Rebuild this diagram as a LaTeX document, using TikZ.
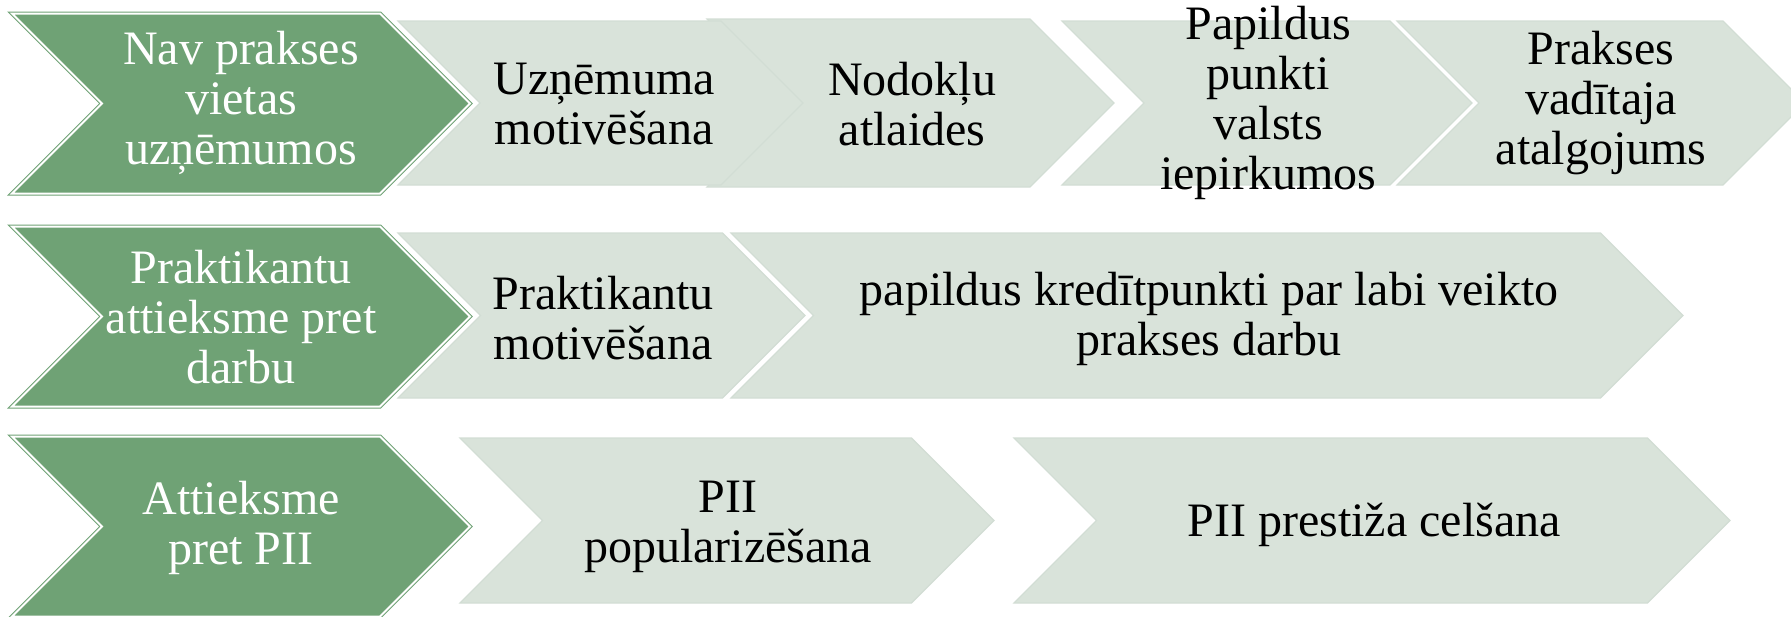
\documentclass[tikz,border=0pt]{standalone}
\usepackage{fontspec}
\setmainfont{Liberation Serif}
\definecolor{chevgreen}{HTML}{6FA275}
\definecolor{chevlight}{HTML}{D9E3DA}
\definecolor{chevedge}{HTML}{D2DDD4}
\tikzset{
  darkchev/.style={fill=chevgreen,draw=chevgreen,line width=0.5pt,double=white,double distance=1pt},
  lightchev/.style={fill=chevlight,draw=chevedge,line width=0.6pt},
  chevtext/.style={align=center,inner sep=0pt,font=\fontsize{24}{25}\selectfont},
  darktxt/.style={chevtext,text=white},
  lighttxt/.style={chevtext,text=black}
}
% style, left x, tip x, centre y, half height
\newcommand\chevron[5]{%
  \path[#1] (#2,#4-#5) -- (#3-#5,#4-#5) -- (#3,#4) -- (#3-#5,#4+#5)
    -- (#2,#4+#5) -- (#2+#5,#4) -- cycle;}
\begin{document}
\begin{tikzpicture}[x=0.5pt,y=-0.5pt]
		\useasboundingbox (0,0) rectangle (1791,616);
		% row 1
		\chevron{lightchev}{1397}{1805}{103}{82}
		\chevron{lightchev}{1062}{1472}{103}{82}
		\chevron{lightchev}{707}{1114}{103}{84}
		\chevron{lightchev}{398}{803}{103}{82}
		\chevron{darkchev}{12}{470}{103.5}{90}
		% row 2
		\chevron{lightchev}{731}{1683}{315.5}{82.5}
		\chevron{lightchev}{398}{805}{315.5}{82.5}
		\chevron{darkchev}{12}{470}{316.5}{90}
		% row 3
		\chevron{lightchev}{1014}{1730}{520.5}{82.5}
		\chevron{lightchev}{460}{994}{520.5}{82.5}
		\chevron{darkchev}{12}{470}{526.5}{90}
		\node[darktxt] (nav) at (241,103) {Nav prakses\\vietas\\uzņēmumos};
		\node[lighttxt] (uzn) at (604,104) {Uzņēmuma\\motivēšana};
		\node[lighttxt] (nod) at (912,104) {Nodokļu\\atlaides};
		\node[lighttxt] (pap) at (1268,103) {Papildus\\punkti\\valsts\\iepirkumos};
		\node[lighttxt] (vad) at (1601,103) {Prakses\\vadītaja\\atalgojums};
		\node[darktxt] (att) at (241,317) {Praktikantu\\attieksme pret\\darbu};
		\node[lighttxt] (mot) at (603,318) {Praktikantu\\motivēšana};
		\node[lighttxt] (kre) at (1209,319) {papildus kredītpunkti par labi veikto\\prakses darbu};
		\node[darktxt] (pii) at (241,528) {Attieksme\\pret PII};
		\node[lighttxt] (pop) at (728,527) {PII\\popularizēšana};
		\node[lighttxt] (pre) at (1374,525) {PII prestiža celšana};
\end{tikzpicture}
\end{document}
